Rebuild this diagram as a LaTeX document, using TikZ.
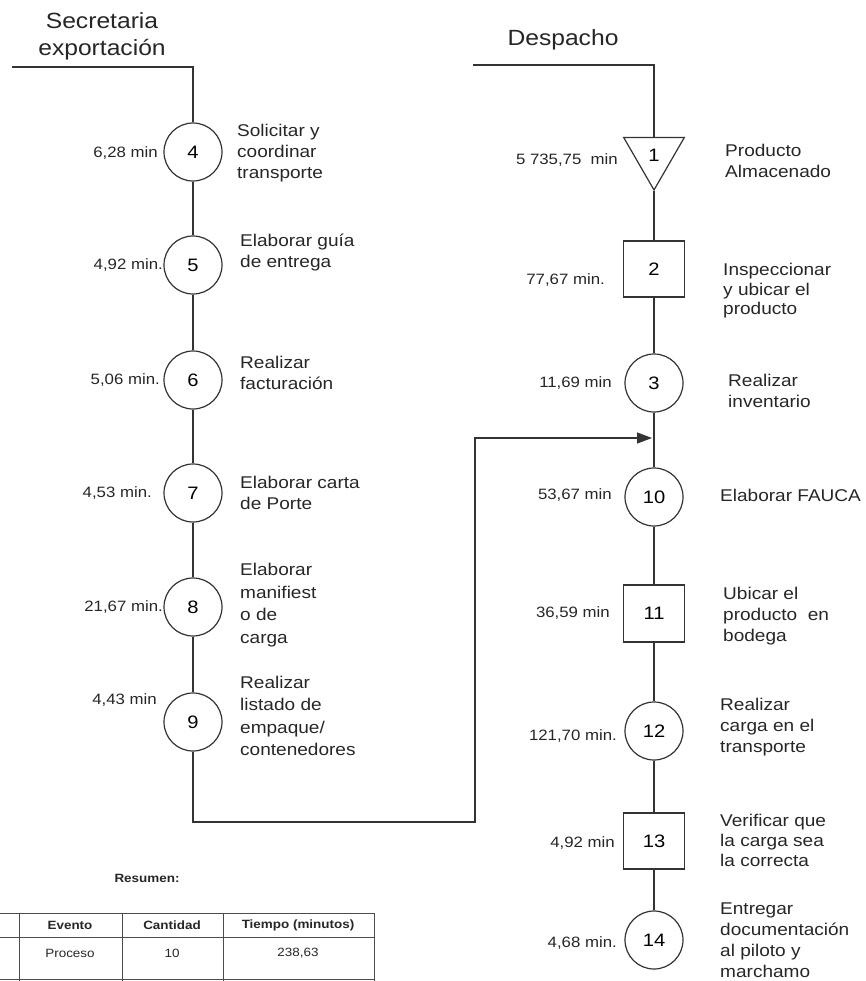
\documentclass[tikz,border=0pt]{standalone}
\usepackage{fontspec}
\setmainfont{Liberation Sans}[FakeStretch=1.12]
\usetikzlibrary{shapes.geometric,arrows.meta}
\begin{document}
\begin{tikzpicture}[x=1pt,y=-1pt,
  flow/.style={draw=black!80, line width=1.3pt},
  opnode/.style={circle, draw=black!80, line width=1.2pt, minimum size=58pt, inner sep=0pt, font=\fontsize{18}{20}\selectfont},
  inspnode/.style={rectangle, draw=black!80, line width=1.2pt, minimum width=61pt, minimum height=56pt, inner sep=0pt, font=\fontsize{18}{20}\selectfont},
  storenode/.style={regular polygon, regular polygon sides=3, shape border rotate=180, draw=black!80, line width=1.2pt, minimum size=70pt, inner sep=0pt, font=\fontsize{18}{20}\selectfont},
  timelbl/.style={anchor=east, inner sep=0pt, text=black!85, font=\fontsize{15}{18}\selectfont},
  desc/.style={anchor=west, inner sep=0pt, align=left, text=black!85, font=\fontsize{17}{21}\selectfont},
  desctight/.style={desc, font=\fontsize{17}{22.5}\selectfont},
  header/.style={inner sep=0pt, align=center, text=black!85, font=\fontsize{22}{27}\selectfont},
  tabline/.style={draw=black!70, line width=0.8pt},
  tabtxt/.style={inner sep=0pt, text=black!85, font=\fontsize{12}{14}\selectfont},
  tabhead/.style={tabtxt, font=\bfseries\fontsize{12}{14}\selectfont}
]
\useasboundingbox (0,0) rectangle (865,981);

% ---------- headers ----------
\node[header] (hsec) at (102,36) {Secretaria\\exportación};
\node[header] (hdes) at (563,40) {Despacho};
\coordinate (hL0) at (12,67);
\coordinate (hL1) at (193,67);
\coordinate (hR0) at (473,65);
\coordinate (hR1) at (654,65);

% ---------- left column ----------
\node[opnode] (c4) at (193,152) {4};
\node[opnode] (c5) at (193,265) {5};
\node[opnode] (c6) at (193,380) {6};
\node[opnode] (c7) at (193,493) {7};
\node[opnode] (c8) at (193,607) {8};
\node[opnode] (c9) at (193,722) {9};

\node[timelbl] (tl4) at (158,153) {6,28 min};
\node[timelbl] (tl5) at (163,265) {4,92 min.};
\node[timelbl] (tl6) at (160,380) {5,06 min.};
\node[timelbl] (tl7) at (152,493) {4,53 min.};
\node[timelbl] (tl8) at (163,607) {21,67 min.};
\node[timelbl] (tl9) at (157,700) {4,43 min};

\node[desc] (d4) at (237,153) {Solicitar y\\coordinar\\transporte};
\node[desc] (d5) at (240,252.5) {Elaborar guía\\de entrega};
\node[desc] (d6) at (240,372.5) {Realizar\\facturación};
\node[desc] (d7) at (240,492.5) {Elaborar carta\\de Porte};
\node[desctight] (d8) at (240,605) {Elaborar\\manifiest\\o de\\carga};
\node[desctight] (d9) at (240,716) {Realizar\\listado de\\empaque/\\contenedores};

% ---------- right column ----------
\node[storenode] (t1) at (654,155) {1};
\node[inspnode] (s2) at (654,269) {2};
\node[opnode] (c3) at (654,383) {3};
\node[opnode] (c10) at (654,497) {10};
\node[inspnode, minimum height=57pt] (s11) at (654,613.5) {11};
\node[opnode] (c12) at (654,731) {12};
\node[inspnode] (s13) at (654,841) {13};
\node[opnode] (c14) at (654,940) {14};

\node[timelbl] (tr1) at (618,160) {5 735,75\ \ min};
\node[timelbl] (tr2) at (605,280) {77,67 min.};
\node[timelbl] (tr3) at (612,383) {11,69 min};
\node[timelbl] (tr10) at (612,495) {53,67 min};
\node[timelbl] (tr11) at (610,613) {36,59 min};
\node[timelbl] (tr12) at (617,736) {121,70 min.};
\node[timelbl] (tr13) at (615,843) {4,92 min};
\node[timelbl] (tr14) at (617,943) {4,68 min.};

\node[desc] (e1) at (725,161) {Producto\\Almacenado};
\node[desc, font=\fontsize{17}{19.5}\selectfont] (e2) at (723,291) {Inspeccionar\\y ubicar el\\producto};
\node[desc] (e3) at (728,391) {Realizar\\inventario};
\node[desc] (e10) at (720,495) {Elaborar FAUCA};
\node[desc] (e11) at (723,616) {Ubicar el\\producto\ \ en\\bodega};
\node[desc] (e12) at (720,727) {Realizar\\carga en el\\transporte};
\node[desc, font=\fontsize{17}{20}\selectfont] (e13) at (720,840) {Verificar que\\la carga sea\\la correcta};
\node[desc] (e14) at (720,940) {Entregar\\documentación\\al piloto y\\marchamo};

% ---------- connectors ----------
\draw[flow] (hL0) -- (hL1) -- (c4);
\draw[flow] (c4) -- (c5);
\draw[flow] (c5) -- (c6);
\draw[flow] (c6) -- (c7);
\draw[flow] (c7) -- (c8);
\draw[flow] (c8) -- (c9);

\draw[flow] (hR0) -- (hR1) -- (t1);
\draw[flow] (t1.corner 1) -- (t1.corner 1 |- s2.north);
\draw[flow] (s2) -- (c3);
\draw[flow] (c3) -- (c10);
\draw[flow] (c10) -- (s11);
\draw[flow] (s11) -- (c12);
\draw[flow] (c12) -- (s13);
\draw[flow] (s13) -- (c14);

\coordinate (lp1) at (193,822);
\coordinate (lp2) at (475,822);
\coordinate (lp3) at (475,438);
\coordinate (join) at (654,438);
\draw[flow, -{Triangle[length=15pt,width=11pt]}, shorten >=2pt]
  (c9) -- (lp1) -- (lp2) -- (lp3) -- (join);

% ---------- summary table ----------
\node[tabhead] (res) at (147,878) {Resumen:};
\draw[tabline] (0,913) -- (374,913);
\draw[tabline] (0,937) -- (374,937);
\draw[tabline] (0,979.5) -- (374,979.5);
\foreach \xx in {19,122,223,374} \draw[tabline] (\xx,913) -- (\xx,981);
\node[tabhead] (th1) at (70,925) {Evento};
\node[tabhead] (th2) at (172,925) {Cantidad};
\node[tabhead] (th3) at (298,925) {Tiempo (minutos)};
\node[tabtxt] (tb1) at (70,953) {Proceso};
\node[tabtxt] (tb2) at (172,953) {10};
\node[tabtxt] (tb3) at (298,953) {238,63};
\end{tikzpicture}
\end{document}
